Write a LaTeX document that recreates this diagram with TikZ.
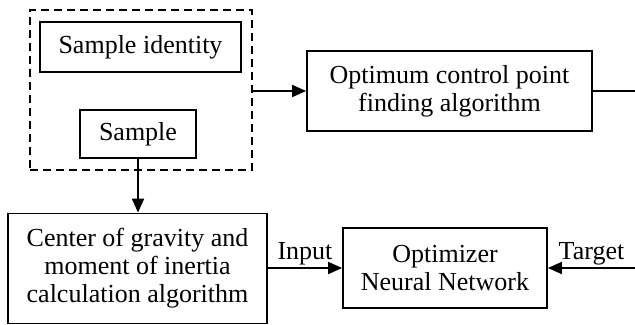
\documentclass[tikz,border=0pt]{standalone}
\usepackage{fontspec}
\setmainfont{Liberation Serif}
\usetikzlibrary{arrows.meta}
\begin{document}
\begin{tikzpicture}[x = 0.5pt, y = -0.5pt, line width = 0.9pt,
        box/.style = {draw, align = center, inner sep = 0pt, font = \fontsize{13}{14}\selectfont},
        arr/.style = {-{Triangle[length = 7pt, width = 6pt]}},
        lbl/.style = {font = \fontsize{13}{14}\selectfont, inner sep = 1pt}]
        \useasboundingbox (0, 0) rectangle (635, 325);
        \node[draw, dashed, dash pattern = on 4pt off 2.5pt, minimum width = 111pt, minimum height = 80pt] (grp) at (141, 90) {};
        \node[box, minimum width = 100.5pt, minimum height = 25pt] (ident) at (140.5, 47) {Sample identity};
        \node[box, minimum width = 58pt, minimum height = 24pt] (smp) at (138, 134) {Sample};
        \node[box, minimum width = 142.5pt, minimum height = 40pt] (opt) at (449.5, 91) {Optimum control point\\finding algorithm};
        \node[box, minimum width = 129.5pt, minimum height = 55pt] (cog) at (137.5, 268.5) {Center of gravity and\\moment of inertia\\calculation algorithm};
        \node[box, minimum width = 102pt, minimum height = 40pt] (nn) at (445, 268) {Optimizer\\Neural Network};
        \coordinate (outr) at (635, 91);
        \coordinate (tgt) at (635, 268);
        \draw[arr] (grp.east |- opt.west) -- (opt.west);
        \draw (opt.east) -- (outr);
        \draw[arr] (smp.south) -- (smp.south |- cog.north);
        \draw[arr] (cog.east |- nn.west) -- node[lbl, above] {Input} (nn.west);
        \draw[arr] (tgt) -- node[lbl, above] {Target} (nn.east);
    \end{tikzpicture}
\end{document}
